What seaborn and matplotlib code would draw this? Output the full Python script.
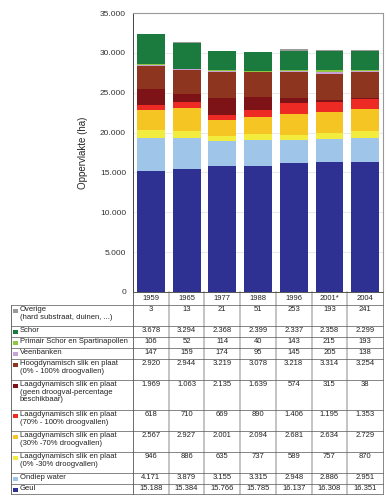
import numpy as np
import pandas as pd
import seaborn as sns
import matplotlib
matplotlib.use("Agg")
import matplotlib.pyplot as plt
from matplotlib.ticker import FuncFormatter, MultipleLocator

years = ["1959", "1965", "1977", "1988", "1996", "2001*", "2004"]

overige = [3, 13, 21, 51, 253, 193, 241]
schor = [3678, 3294, 2368, 2399, 2337, 2358, 2299]
primair = [106, 52, 114, 40, 143, 215, 193]
veen = [147, 159, 174, 95, 145, 205, 138]
hoog = [2920, 2944, 3219, 3078, 3218, 3314, 3254]
laag_geen = [1969, 1063, 2135, 1639, 574, 315, 38]
laag_70 = [618, 710, 669, 890, 1406, 1195, 1353]
laag_30 = [2567, 2927, 2001, 2094, 2681, 2634, 2729]
laag_0 = [946, 886, 635, 737, 589, 757, 870]
ondiep = [4171, 3879, 3155, 3315, 2948, 2886, 2951]
geul = [15188, 15384, 15766, 15785, 16137, 16308, 16351]

# table order (top to bottom)
labels = [
    "Overige\n(hard substraat, duinen, ...)",
    "Schor",
    "Primair Schor en Spartinapollen",
    "Veenbanken",
    "Hoogdynamisch slik en plaat\n(0% - 100% droogvallen)",
    "Laagdynamisch slik en plaat\n(geen droogval-percentage\nbeschikbaar)",
    "Laagdynamisch slik en plaat\n(70% - 100% droogvallen)",
    "Laagdynamisch slik en plaat\n(30% -70% droogvallen)",
    "Laagdynamisch slik en plaat\n(0% -30% droogvallen)",
    "Ondiep water",
    "Geul",
]
series = [overige, schor, primair, veen, hoog, laag_geen, laag_70, laag_30, laag_0, ondiep, geul]
colors = ["#9a9a9a", "#1b7a3d", "#8dc63f", "#c8a2d6", "#8e3520", "#7d1316",
          "#ee2a25", "#f5c623", "#f2ec3f", "#9fc5e8", "#2e3192"]

font = "Liberation Sans"
sns.set_style("white")
plt.rcParams["font.family"] = [font, "DejaVu Sans"]

fig = plt.figure(figsize=(3.9, 5.0), dpi=100)
W, H = 390.0, 500.0

# ---- bar chart ----
ax = fig.add_axes([133 / W, 1 - 292 / H, 250 / W, 279 / H])

# stack bottom->top = reversed table order; draw cumulative totals from top down
stack = list(zip(series[::-1], colors[::-1]))
cum = np.cumsum(np.array([s for s, _ in stack]), axis=0)
df = pd.DataFrame({"year": years})
for i in range(len(stack) - 1, -1, -1):
    df["v"] = cum[i]
    sns.barplot(data=df, x="year", y="v", order=years, color=stack[i][1],
                saturation=1, width=0.78, ax=ax, edgecolor="none", zorder=3)

ax.set_ylim(0, 35000)
ax.set_xlim(-0.5, 6.5)
ax.yaxis.set_major_locator(MultipleLocator(5000))
ax.yaxis.set_major_formatter(FuncFormatter(lambda v, p: f"{int(v):,}".replace(",", ".")))
ax.grid(axis="y", color="#e6e6e6", lw=0.6, zorder=0)
ax.set_axisbelow(True)
ax.set_xticks([])
ax.set_xlabel("")
ax.set_ylabel("Oppervlakte (ha)", fontsize=7, family=[font])
ax.yaxis.set_label_coords(-0.18, 0.5)
ax.tick_params(axis="y", labelsize=6, length=3, width=0.6, color="#444", pad=2,
               labelcolor="#333")
for lab in ax.get_yticklabels():
    lab.set_family(font)
ax.spines["left"].set_color("#444")
ax.spines["left"].set_linewidth(0.7)
for s in ["top", "right"]:
    ax.spines[s].set_color("#999")
    ax.spines[s].set_linewidth(0.8)
ax.spines["bottom"].set_visible(False)

# ---- table ----
tb = fig.add_axes([0, 0, 1, 1], zorder=5)
tb.set_xlim(0, W)
tb.set_ylim(H, 0)
tb.axis("off")
tb.patch.set_alpha(0)

col_edges = [133 + i * 250 / 7 for i in range(8)]
row_edges = [292, 305, 326, 337, 348, 359, 380, 410, 431, 452, 473, 484, 494]
left = 11
fs = 5.5

# header
for j, y in enumerate(years):
    tb.text((col_edges[j] + col_edges[j + 1]) / 2, 298.8, y, ha="center", va="center",
            fontsize=fs, color="#222")

# vertical lines
for j, x in enumerate(col_edges):
    if j == 0:
        tb.plot([x, x], [292, row_edges[-1]], color="#555", lw=0.6)
    elif j == len(col_edges) - 1:
        tb.plot([x, x], [292, row_edges[-1]], color="#888", lw=0.7)
    else:
        tb.plot([x, x], [292, row_edges[-1]], color="#c4c4c4", lw=1.4)
tb.plot([left, left], [305, row_edges[-1]], color="#555", lw=0.6)

# horizontal lines
tb.plot([133, col_edges[-1]], [292, 292], color="#555", lw=0.7)
for y in row_edges[1:]:
    tb.plot([left, col_edges[-1]], [y, y], color="#555", lw=0.5)

# rows
for i, (lab, vals, c) in enumerate(zip(labels, series, colors)):
    top = row_edges[i + 1]
    ytext = top + 1.3
    tb.add_patch(plt.Rectangle((13, ytext + 2.4), 4.6, 4.6, color=c, lw=0))
    tb.text(20, ytext, lab, ha="left", va="top", fontsize=fs, color="#222",
            linespacing=1.05)
    for j, v in enumerate(vals):
        tb.text((col_edges[j] + col_edges[j + 1]) / 2, ytext,
                f"{v:,}".replace(",", "."), ha="center", va="top",
                fontsize=fs, color="#222")

fig.savefig("out.png", dpi=100, facecolor="white")
